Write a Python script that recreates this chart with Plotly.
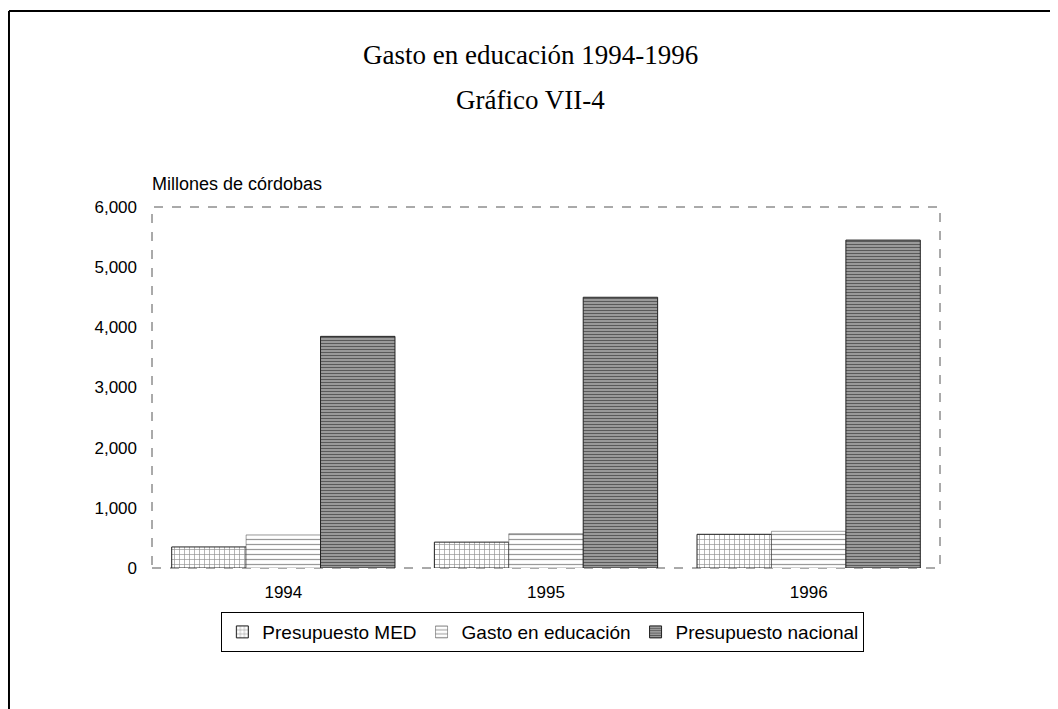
import plotly.graph_objects as go

# Datos (millones de córdobas)
anios = ["1994", "1995", "1996"]
presupuesto_med = [350, 430, 560]
gasto_educacion = [550, 570, 610]
presupuesto_nacional = [3850, 4500, 5450]

ticks_y = [0, 1000, 2000, 3000, 4000, 5000, 6000]

fig = go.Figure()

# Presupuesto MED - cuadrícula
fig.add_trace(go.Bar(
    name="Presupuesto MED",
    x=anios,
    y=presupuesto_med,
    marker=dict(
        color="white",
        line=dict(color="#222222", width=1),
        pattern=dict(shape="+", fgcolor="#222222", bgcolor="white", size=5, solidity=0.25)
    )
))

# Gasto en educación - líneas horizontales
fig.add_trace(go.Bar(
    name="Gasto en educación",
    x=anios,
    y=gasto_educacion,
    marker=dict(
        color="white",
        line=dict(color="#444444", width=0.5),
        pattern=dict(shape="-", fgcolor="#333333", bgcolor="white", size=5, solidity=0.25)
    )
))

# Presupuesto nacional - rayado denso gris
fig.add_trace(go.Bar(
    name="Presupuesto nacional",
    x=anios,
    y=presupuesto_nacional,
    marker=dict(
        color="#8c8c8c",
        line=dict(color="#222222", width=1),
        pattern=dict(shape="-", fgcolor="#1a1a1a", bgcolor="#9a9a9a", size=3, solidity=0.35)
    )
))

fig.update_layout(
    width=1058,
    height=709,
    margin=dict(l=144, r=126, t=199, b=149),
    paper_bgcolor="white",
    plot_bgcolor="white",
    barmode="group",
    bargap=0.15,
    bargroupgap=0,
    font=dict(family="Liberation Sans, Arial", size=17, color="black"),
    xaxis=dict(
        showgrid=False,
        showline=False,
        ticks="",
        ticklabelstandoff=12,
        tickfont=dict(size=17),
    ),
    yaxis=dict(
        range=[0, 6000],
        tickvals=ticks_y,
        tickformat=",d",
        showgrid=False,
        zeroline=False,
        showline=False,
        ticks="",
        ticklabelstandoff=14,
        tickfont=dict(size=17),
    ),
    legend=dict(
        orientation="h",
        x=0.496,
        xanchor="center",
        y=-0.122,
        yanchor="top",
        bordercolor="black",
        borderwidth=1,
        bgcolor="white",
        font=dict(size=19),
        itemwidth=30,
        tracegroupgap=0,
    ),
    showlegend=True,
)

# Títulos (dos líneas, serif)
fig.add_annotation(text="Gasto en educación 1994-1996", xref="paper", yref="paper",
                   x=0.48, y=1.421, xanchor="center", yanchor="middle", showarrow=False,
                   font=dict(family="Liberation Serif, Times New Roman", size=27, color="black"))
fig.add_annotation(text="Gráfico VII-4", xref="paper", yref="paper",
                   x=0.48, y=1.296, xanchor="center", yanchor="middle", showarrow=False,
                   font=dict(family="Liberation Serif, Times New Roman", size=27, color="black"))

# Borde del área de trazado (punteado como en el escaneo)
fig.add_shape(type="rect", xref="paper", yref="paper", x0=0, x1=1, y0=0, y1=1,
              line=dict(color="#555555", width=1, dash="dash"), layer="below")

# Marco exterior (izquierda y arriba)
fig.add_shape(type="line", xref="paper", yref="paper",
              x0=-0.1815, x1=-0.1815, y0=-0.413, y1=1.543,
              line=dict(color="black", width=2))
fig.add_shape(type="line", xref="paper", yref="paper",
              x0=-0.1815, x1=1.16, y0=1.543, y1=1.543,
              line=dict(color="black", width=2))

# Título del eje Y
fig.add_annotation(
    text="Millones de córdobas",
    xref="paper", yref="paper",
    x=-0.003, y=1.064,
    xanchor="left", yanchor="middle",
    showarrow=False,
    font=dict(size=18, color="black")
)

fig.write_html("out.html")
